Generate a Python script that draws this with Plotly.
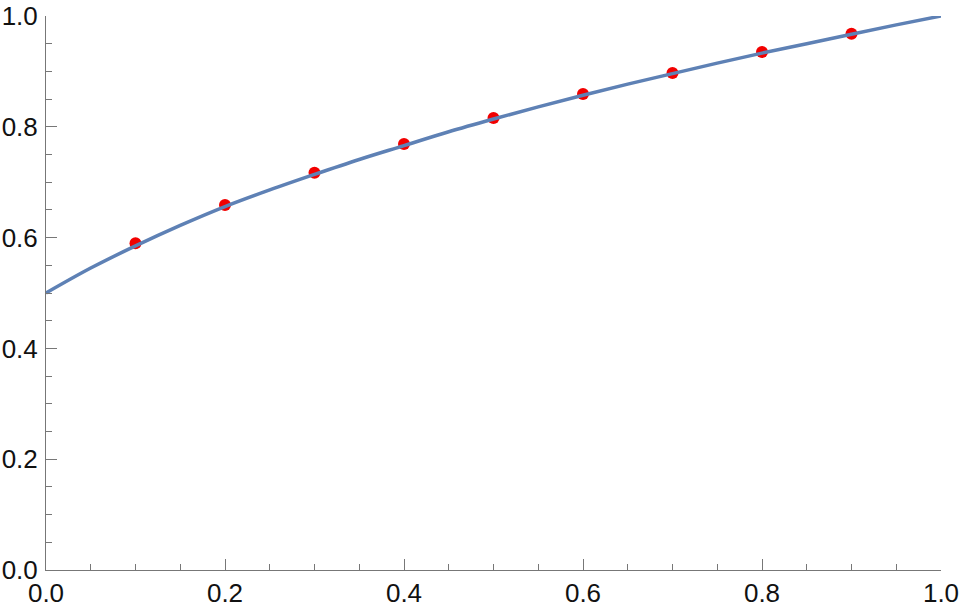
import plotly.graph_objects as go

# Curve samples
curve_x = [0.0, 0.05, 0.1, 0.15, 0.2, 0.25, 0.3, 0.35, 0.4, 0.45, 0.5,
           0.55, 0.6, 0.65, 0.7, 0.75, 0.8, 0.85, 0.9, 0.95, 1.0]
curve_y = [0.500, 0.545, 0.585, 0.622, 0.656, 0.686, 0.714, 0.741, 0.766, 0.791, 0.814,
           0.836, 0.857, 0.877, 0.896, 0.915, 0.933, 0.950, 0.967, 0.984, 1.000]

# Data points
pts_x = [0.1, 0.2, 0.3, 0.4, 0.5, 0.6, 0.7, 0.8, 0.9]
pts_y = [0.590, 0.659, 0.717, 0.769, 0.816, 0.859, 0.897, 0.935, 0.968]

fig = go.Figure()
fig.add_trace(go.Scatter(x=pts_x, y=pts_y, mode="markers",
                         marker=dict(color="#F20000", size=12, line=dict(width=0)),
                         showlegend=False, cliponaxis=False))
fig.add_trace(go.Scatter(x=curve_x, y=curve_y, mode="lines", line_shape="spline",
                         line=dict(color="#5E81B5", width=3.5),
                         showlegend=False, cliponaxis=False))

axis_common = dict(
    showgrid=False, zeroline=False, showline=True, linecolor="#777777", linewidth=1,
    ticks="inside", ticklen=11, tickcolor="#777777", tickwidth=1,
    tickformat=".1f", tickfont=dict(family="Liberation Sans, Arial", size=26, color="#111111"),
    minor=dict(dtick=0.05, ticks="inside", ticklen=6, tickcolor="#777777", tickwidth=1, showgrid=False),
    dtick=0.2, tick0=0, automargin=False,
)

fig.update_layout(
    width=960, height=607,
    margin=dict(l=46, r=19, t=16, b=37),
    paper_bgcolor="white", plot_bgcolor="white",
    xaxis=dict(range=[0, 1], **axis_common, ticklabelstandoff=0),
    yaxis=dict(range=[0, 1], **axis_common, ticklabelstandoff=2),
)

fig.write_html("out.html", config={"displayModeBar": False},
               post_script="document.body.style.margin='0';document.body.style.overflow='hidden';")
